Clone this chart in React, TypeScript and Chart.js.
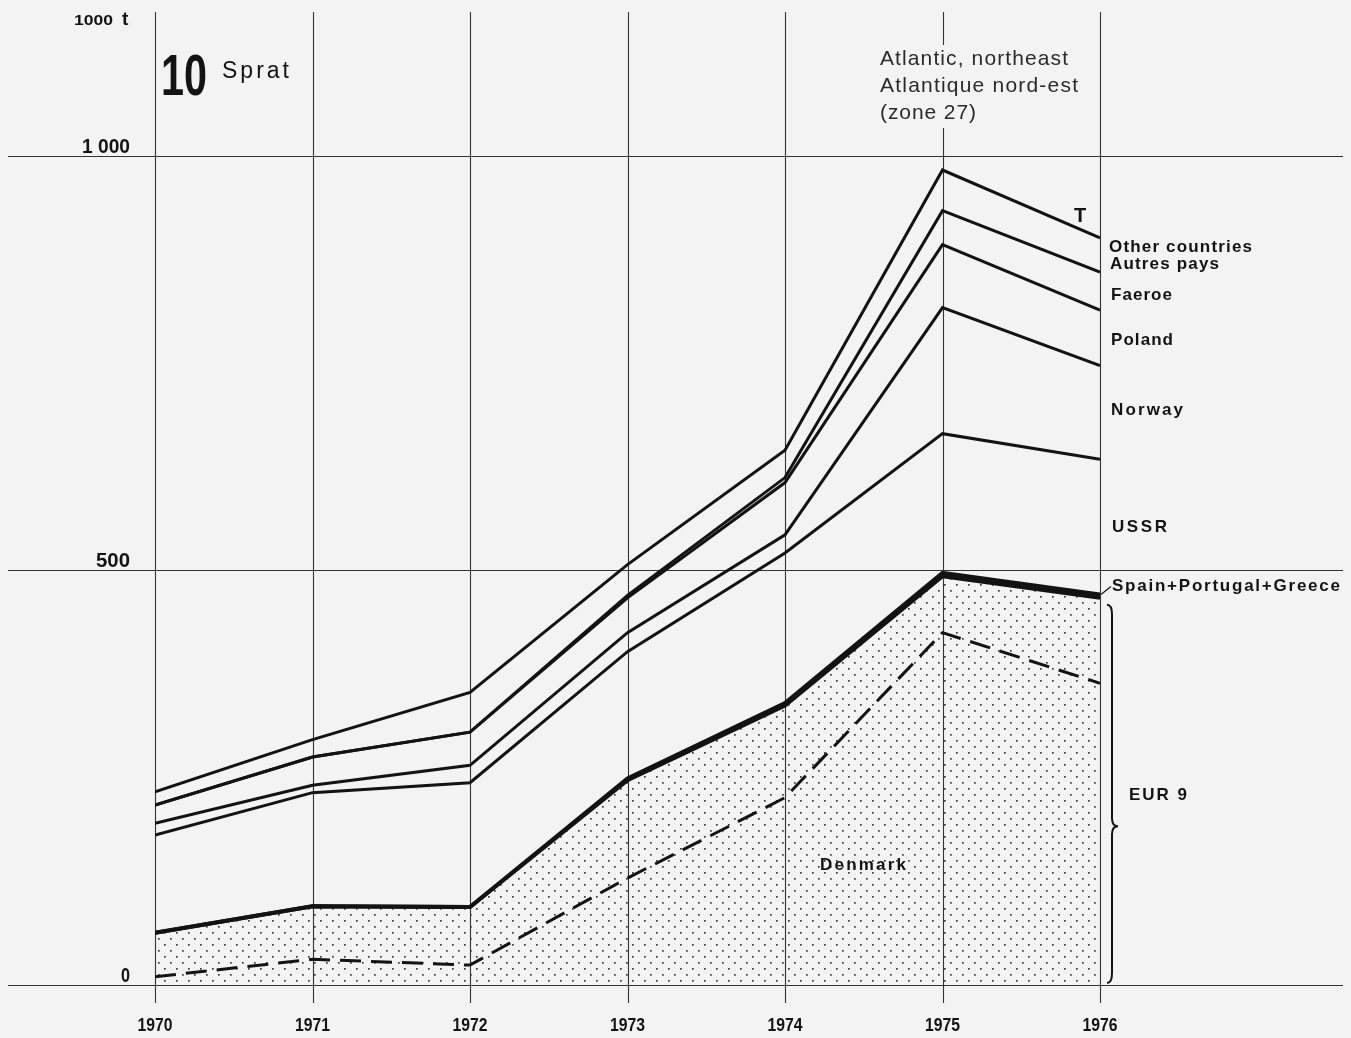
import React, { useEffect, useRef } from "react";
import { Chart, registerables } from "chart.js";

Chart.register(...registerables);

// ---- data (1000 t), cumulative levels ----
const years = [1970, 1971, 1972, 1973, 1974, 1975, 1976];
const yearLabels = ["1970", "1971", "1972", "1973", "1974", "1975", "1976"];
const yTickValues = [0, 500, 1000];
const yTickLabels = ["0", "500", "1 000"];

const denmark = [10, 31, 24, 129, 226, 425, 364];
const eur9 = [63, 95, 94, 247, 337, 493, 467];
const plusSpainPortugalGreece = [63, 95, 94, 249, 340, 497, 471];
const plusUSSR = [181, 232, 244, 402, 521, 665, 634];
const plusNorway = [195, 241, 265, 425, 543, 817, 747];
const plusPoland = [217, 275, 305, 467, 606, 893, 814];
const plusFaeroe = [217, 275, 305, 470, 612, 934, 860];
const totalT = [233, 296, 353, 507, 645, 983, 901];

const FONT = '"Liberation Sans", Arial, Helvetica, sans-serif';
const INK = "#131313";
const BG = "#f3f3f3";

type TxtOpts = {
  align?: "left" | "center" | "right";
  width?: number;
  mode?: "spacing" | "scale";
  color?: string;
};

function txt(ctx: CanvasRenderingContext2D, s: string, x: number, y: number, font: string, o: TxtOpts = {}) {
  ctx.save();
  ctx.font = font;
  ctx.fillStyle = o.color || INK;
  ctx.textAlign = "left";
  ctx.textBaseline = "alphabetic";
  (ctx as any).letterSpacing = "0px";
  const w0 = ctx.measureText(s).width;
  let sx = 1;
  let ls = 0;
  let w = w0;
  if (o.width) {
    if (o.mode === "scale") {
      sx = o.width / w0;
    } else if (s.length > 1) {
      ls = (o.width - w0) / (s.length - 1);
    }
    w = o.width;
  }
  const align = o.align || "left";
  const left = align === "center" ? x - w / 2 : align === "right" ? x - w : x;
  ctx.translate(left, y);
  ctx.scale(sx, 1);
  (ctx as any).letterSpacing = ls + "px";
  ctx.fillText(s, 0, 0);
  ctx.restore();
}

function makePattern(): CanvasPattern | string {
  const c = document.createElement("canvas");
  c.width = 12;
  c.height = 12;
  const g = c.getContext("2d");
  if (!g) return "rgba(0,0,0,0.1)";
  g.fillStyle = "#3a3a3a";
  g.fillRect(2, 2, 1.7, 1.7);
  g.fillRect(8, 8, 1.7, 1.7);
  const p = g.createPattern(c, "repeat");
  return p || "rgba(0,0,0,0.1)";
}

const pts = (arr: number[]) => years.map((x, i) => ({ x, y: arr[i] }));

export default function App() {
  const ref = useRef<HTMLCanvasElement | null>(null);

  useEffect(() => {
    const canvas = ref.current;
    if (!canvas) return;

    const bgPlugin = {
      id: "bgPlugin",
      beforeDraw(chart: any) {
        const ctx = chart.ctx as CanvasRenderingContext2D;
        ctx.save();
        ctx.fillStyle = BG;
        ctx.fillRect(0, 0, chart.width, chart.height);
        ctx.restore();
      },
    };

    const gridPlugin = {
      id: "gridPlugin",
      beforeDatasetsDraw(chart: any) {
        const ctx = chart.ctx as CanvasRenderingContext2D;
        const xs = chart.scales.x;
        const ys = chart.scales.y;
        ctx.save();
        ctx.strokeStyle = "#333";
        ctx.lineWidth = 1.1;
        yTickValues.forEach((v) => {
          const py = Math.round(ys.getPixelForValue(v)) + 0.5;
          ctx.beginPath();
          ctx.moveTo(8, py);
          ctx.lineTo(1343, py);
          ctx.stroke();
        });
        years.forEach((yr) => {
          const px = Math.round(xs.getPixelForValue(yr)) + 0.5;
          ctx.beginPath();
          ctx.moveTo(px, chart.chartArea.top + 2);
          ctx.lineTo(px, ys.getPixelForValue(0) + 18);
          ctx.stroke();
        });
        // text box interrupting the 1975 grid line
        ctx.fillStyle = BG;
        ctx.fillRect(876, 45, 205, 83);
        ctx.restore();
      },
    };

    const textPlugin = {
      id: "textPlugin",
      afterDatasetsDraw(chart: any) {
        const ctx = chart.ctx as CanvasRenderingContext2D;
        const xs = chart.scales.x;
        const ys = chart.scales.y;

        // y tick labels (above the grid lines)
        const yWidths = [9, 34, 48];
        yTickValues.forEach((v, i) => {
          const py = ys.getPixelForValue(v);
          txt(ctx, yTickLabels[i], 130, py - 3, `bold 20px ${FONT}`, { align: "right", width: yWidths[i], mode: "scale" });
        });
        // unit
        txt(ctx, "1000", 113, 25, `bold 15px ${FONT}`, { align: "right", width: 39, mode: "scale" });
        txt(ctx, "t", 122, 25, `bold 19px ${FONT}`);

        // year labels
        years.forEach((yr, i) => {
          const px = xs.getPixelForValue(yr);
          txt(ctx, yearLabels[i], px, 1031, `bold 18px ${FONT}`, { align: "center", width: 35, mode: "scale" });
        });

        // title
        txt(ctx, "10", 161, 95, `bold 57px ${FONT}`, { width: 46, mode: "scale" });
        txt(ctx, "Sprat", 222, 78, `23px ${FONT}`, { width: 67 });

        // area note
        const nc = "#2a2a2a";
        txt(ctx, "Atlantic, northeast", 880, 65, `21px ${FONT}`, { width: 188, color: nc });
        txt(ctx, "Atlantique nord-est", 880, 92, `21px ${FONT}`, { width: 198, color: nc });
        txt(ctx, "(zone 27)", 880, 119, `21px ${FONT}`, { width: 96, color: nc });

        // right-side labels
        const lf = `bold 17px ${FONT}`;
        txt(ctx, "T", 1074, 222, `bold 20px ${FONT}`);
        txt(ctx, "Other countries", 1109, 252, lf, { width: 143 });
        txt(ctx, "Autres pays", 1110, 269, lf, { width: 109 });
        txt(ctx, "Faeroe", 1111, 300, lf, { width: 61 });
        txt(ctx, "Poland", 1111, 345, lf, { width: 62 });
        txt(ctx, "Norway", 1111, 415, lf, { width: 72 });
        txt(ctx, "USSR", 1112, 532, lf, { width: 55 });
        txt(ctx, "Spain+Portugal+Greece", 1112, 591, lf, { width: 228 });
        txt(ctx, "EUR 9", 1129, 800, lf, { width: 58 });
        txt(ctx, "Denmark", 863, 870, lf, { align: "center", width: 86 });

        // leader for Spain+Portugal+Greece
        const x76 = xs.getPixelForValue(1976);
        const ySpg = ys.getPixelForValue(plusSpainPortugalGreece[6]);
        ctx.save();
        ctx.strokeStyle = INK;
        ctx.lineWidth = 1.3;
        ctx.beginPath();
        ctx.moveTo(x76 + 1, ySpg);
        ctx.lineTo(x76 + 11, ySpg - 8);
        ctx.stroke();

        // brace for EUR 9
        const top = ys.getPixelForValue(eur9[6]) + 7;
        const bot = ys.getPixelForValue(0) - 2;
        const mid = ys.getPixelForValue(eur9[6] * 0.41);
        const bx = x76 + 12;
        ctx.lineWidth = 2;
        ctx.beginPath();
        ctx.moveTo(bx - 5, top);
        ctx.quadraticCurveTo(bx, top, bx, top + 10);
        ctx.lineTo(bx, mid - 8);
        ctx.quadraticCurveTo(bx, mid, bx + 6, mid);
        ctx.quadraticCurveTo(bx, mid, bx, mid + 8);
        ctx.lineTo(bx, bot - 10);
        ctx.quadraticCurveTo(bx, bot, bx - 5, bot);
        ctx.stroke();
        ctx.restore();
      },
    };

    const line = (label: string, arr: number[], width: number, extra: any = {}) => ({
      label,
      data: pts(arr),
      borderColor: INK,
      borderWidth: width,
      pointRadius: 0,
      tension: 0,
      fill: false,
      borderCapStyle: "butt",
      borderJoinStyle: "miter",
      ...extra,
    });

    const chart = new Chart(canvas, {
      type: "line",
      data: {
        datasets: [
          line("Denmark", denmark, 3, { borderDash: [21, 10] }),
          line("EUR 9", eur9, 4, { fill: "origin", backgroundColor: makePattern() }),
          line("Spain+Portugal+Greece", plusSpainPortugalGreece, 4),
          line("USSR", plusUSSR, 3),
          line("Norway", plusNorway, 3),
          line("Poland", plusPoland, 3),
          line("Faeroe", plusFaeroe, 3),
          line("Other countries", totalT, 3),
        ] as any,
      },
      options: {
        responsive: false,
        animation: false,
        devicePixelRatio: 1,
        layout: { padding: { left: 155, right: 251, top: 10, bottom: 53 } },
        scales: {
          x: { type: "linear", min: 1970, max: 1976, display: false },
          y: { type: "linear", min: 0, max: 1176, display: false },
        },
        plugins: {
          legend: { display: false },
          tooltip: { enabled: false },
          title: { display: false },
        },
      } as any,
      plugins: [bgPlugin, gridPlugin, textPlugin],
    });

    return () => chart.destroy();
  }, []);

  return (
    <div style={{ position: "fixed", left: 0, top: 0, width: 1351, height: 1038 }}>
      <canvas ref={ref} width={1351} height={1038} style={{ display: "block" }} />
    </div>
  );
}
